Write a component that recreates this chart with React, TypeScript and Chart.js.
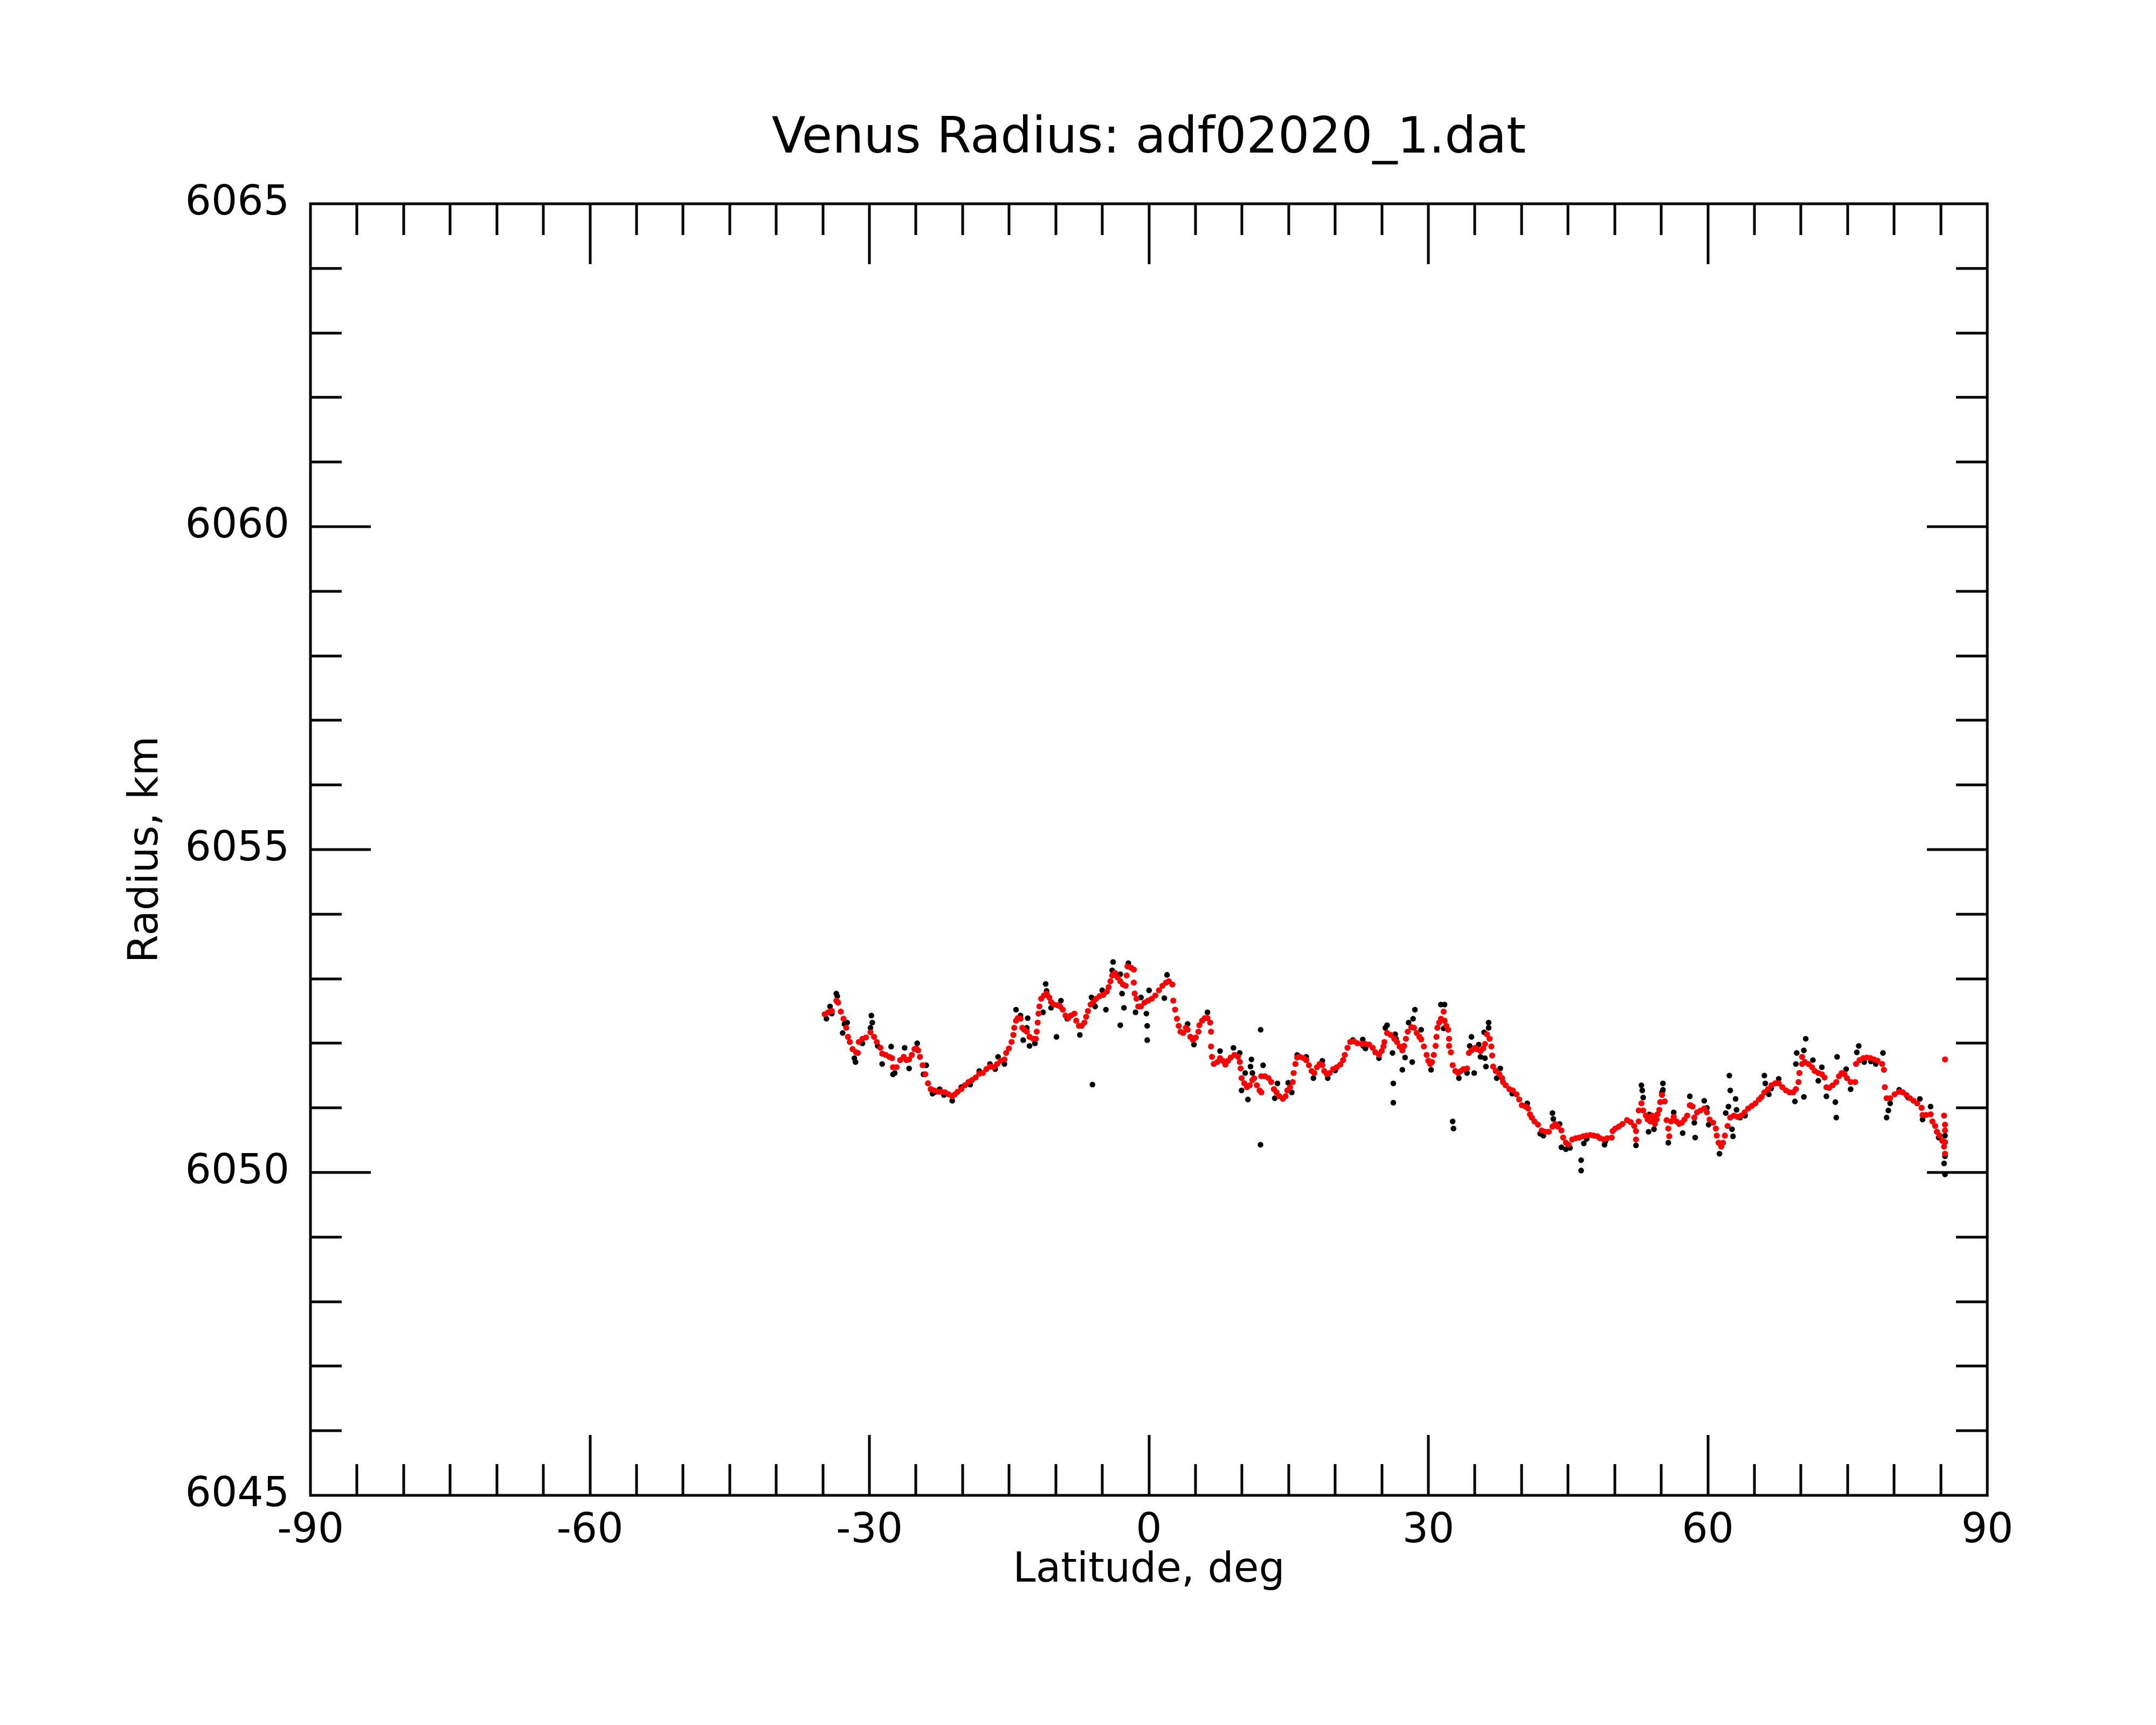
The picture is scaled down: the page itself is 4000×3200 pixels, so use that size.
import React, { useEffect, useRef } from 'react';
import { Chart, registerables } from 'chart.js';

Chart.register(...registerables);

const TITLE = 'Venus Radius: adf02020_1.dat';
const X_TITLE = 'Latitude, deg';
const Y_TITLE = 'Radius, km';

const X_MIN = -90;
const X_MAX = 90;
const Y_MIN = 6045;
const Y_MAX = 6065;
const xLabelStep = 30;
const yLabelStep = 5;
const xMajorTicks = [-60, -30, 0, 30, 60];
const xMinorTicks = [-85, -80, -75, -70, -65, -55, -50, -45, -40, -35, -25, -20, -15, -10, -5, 5, 10, 15, 20, 25, 35, 40, 45, 50, 55, 65, 70, 75, 80, 85];
const yMajorTicks = [6050, 6055, 6060];
const yMinorTicks = [6046, 6047, 6048, 6049, 6051, 6052, 6053, 6054, 6056, 6057, 6058, 6059, 6061, 6062, 6063, 6064];

// Smoothed (red) series
const redLat = [
  -34.80, -34.42, -34.03, -33.55, -33.36, -33.07, -32.78, -32.49, -32.30, -32.10, -31.81, -31.43, -31.24, -31.14,
  -30.75, -30.37, -29.89, -29.50, -29.21, -28.82, -28.63, -28.25, -27.86, -27.57, -27.47, -27.09, -26.70, -26.32,
  -26.03, -25.74, -25.45, -25.16, -24.97, -24.77, -24.58, -24.29, -24.00, -23.71, -23.42, -23.04, -22.65, -22.27,
  -21.88, -21.49, -21.11, -20.82, -20.53, -20.14, -19.76, -19.37, -18.99, -18.60, -18.21, -17.83, -17.44, -17.06,
  -16.67, -16.29, -15.90, -15.51, -15.32, -15.03, -14.74, -14.55, -14.45, -14.26, -14.07, -13.78, -13.59, -13.39,
  -13.10, -12.81, -12.43, -12.14,
  -12.04, -11.94, -11.85, -11.75, -11.56, -11.27, -10.98, -10.69, -10.50, -10.21, -9.82, -9.53, -9.24, -8.95,
  -8.66, -8.37, -7.99, -7.80, -7.51, -7.22, -6.93, -6.73, -6.54, -6.25, -5.96, -5.67, -5.29, -4.90, -4.52, -4.32,
  -4.13, -3.94, -3.65, -3.36, -3.07, -2.78, -2.49, -2.39, -2.30, -1.91, -1.62, -1.62, -1.53, -1.33, -1.14, -0.85,
  -0.47, -0.08, 0.31, 0.69, 1.08, 1.46, 1.85, 2.14, 2.52, 2.62, 2.81, 3.01, 3.20, 3.39, 3.68, 3.97, 4.16, 4.45,
  4.74, 5.03, 5.32, 5.42, 5.71, 6.00, 6.29, 6.58, 6.67, 6.67, 6.77, 6.96, 7.35, 7.64, 7.93, 8.21, 8.50, 8.79,
  9.18, 9.57, 9.76, 9.85, 9.95, 10.24, 10.53, 10.82, 11.11, 11.30, 11.59, 11.88, 12.07,
  12.06, 12.45, 12.84, 13.13, 13.42, 13.70, 13.99, 14.38, 14.67, 14.86, 15.15, 15.44, 15.54, 15.73, 15.92, 16.21,
  16.60, 16.89, 17.18, 17.47, 17.76, 18.04, 18.33, 18.62, 18.82, 19.11, 19.40, 19.78, 20.17, 20.55, 20.84, 21.03,
  21.32, 21.61, 22.00, 22.38, 22.87, 23.25, 23.64, 24.02, 24.31, 24.70, 24.99, 25.18, 25.28, 25.57, 25.95, 26.34,
  26.63, 26.92, 27.21, 27.40, 27.59, 27.79, 28.17, 28.46, 28.75, 29.04, 29.23, 29.52, 29.81, 30.00, 30.20, 30.39,
  30.58, 30.78, 30.87, 30.97, 31.16, 31.35, 31.64, 31.74, 31.93, 32.13, 32.22, 32.22, 32.42, 32.61, 32.90, 33.19,
  33.48, 33.77, 34.15, 34.35, 34.63, 35.02,
  35.21, 35.60, 35.89, 36.08, 36.28, 36.57, 36.76, 36.85, 36.95, 37.24, 37.63, 37.92, 38.01, 38.30, 38.69, 39.07,
  39.46, 39.75, 40.04, 40.42, 40.71, 40.91, 41.10, 41.39, 41.77, 42.16, 42.55, 42.93, 43.32, 43.61, 43.90, 44.28,
  44.47, 44.76, 45.05, 45.44, 45.82, 46.21, 46.60, 46.98, 47.37, 47.75, 48.14, 48.43, 48.81, 49.20, 49.68, 49.78,
  50.07, 50.45, 50.84, 51.32, 51.71, 52.09, 52.29, 52.29, 52.58, 52.58, 52.87, 53.06, 53.35, 53.54, 53.83, 54.02,
  54.22, 54.31, 54.50, 54.60, 54.79, 54.89, 55.08, 55.37, 55.57, 55.76, 55.86, 56.05, 56.34, 56.63, 56.92, 57.21,
  57.49, 57.78, 58.07, 58.36,
  58.55, 58.84, 59.22, 59.61, 59.90, 60.19, 60.57, 60.86, 60.96, 61.15, 61.44, 61.63, 61.83, 62.12, 62.40, 62.79,
  63.18, 63.56, 63.95, 64.33, 64.72, 65.11, 65.49, 65.78, 66.07, 66.46, 66.84, 67.23, 67.61, 68.00, 68.39, 68.77,
  69.16, 69.45, 69.74, 69.83, 70.12, 70.12, 70.41, 70.80, 71.18, 71.47, 71.86, 72.24, 72.53, 72.73, 73.02, 73.40,
  73.79, 74.08, 74.37, 74.66, 74.94, 75.33, 75.81, 75.91, 76.29, 76.68, 77.07, 77.45, 77.84, 78.22, 78.71, 78.90,
  79.00, 79.19, 79.57, 80.06, 80.54, 80.92, 81.31, 81.69, 82.08, 82.47, 82.95, 83.05, 83.43, 83.91, 84.11, 84.40,
  84.59, 84.88, 85.17, 85.36, 85.46, 85.46, 85.36, 85.46, 85.46, 85.46,
];
const redRad = [
  6052.45, 6052.48, 6052.50, 6052.66, 6052.63, 6052.49, 6052.38, 6052.24, 6052.10, 6052.02, 6051.91, 6051.86, 6051.85, 6052.02,
  6052.07, 6052.09, 6052.17, 6052.10, 6052.02, 6051.93, 6051.84, 6051.82, 6051.79, 6051.77, 6051.63, 6051.63, 6051.74, 6051.79,
  6051.74, 6051.75, 6051.82, 6051.91, 6051.92, 6051.89, 6051.79, 6051.66, 6051.52, 6051.38, 6051.29, 6051.27, 6051.25, 6051.25,
  6051.24, 6051.21, 6051.18, 6051.21, 6051.25, 6051.29, 6051.35, 6051.40, 6051.43, 6051.47, 6051.53, 6051.54, 6051.60, 6051.64,
  6051.63, 6051.68, 6051.73, 6051.75, 6051.85, 6051.92, 6052.02, 6052.13, 6052.24, 6052.35, 6052.39, 6052.38, 6052.24, 6052.21,
  6052.18, 6052.10, 6052.07, 6052.07,
  6052.18, 6052.32, 6052.46, 6052.57, 6052.69, 6052.74, 6052.77, 6052.71, 6052.64, 6052.60, 6052.59, 6052.57, 6052.52, 6052.43,
  6052.39, 6052.43, 6052.46, 6052.35, 6052.27, 6052.27, 6052.32, 6052.41, 6052.50, 6052.60, 6052.64, 6052.69, 6052.73, 6052.75, 6052.80, 6052.87,
  6052.96, 6053.05, 6053.09, 6053.02, 6052.96, 6052.91, 6052.89, 6053.05, 6053.19, 6053.17, 6053.14, 6052.94, 6052.77, 6052.69, 6052.57, 6052.57,
  6052.63, 6052.66, 6052.69, 6052.74, 6052.82, 6052.89, 6052.94, 6052.96, 6052.91, 6052.66, 6052.52, 6052.38, 6052.27, 6052.18, 6052.16, 6052.24, 6052.21, 6052.10,
  6052.05, 6052.09, 6052.18, 6052.28, 6052.35, 6052.39, 6052.39, 6052.32, 6052.18, 6051.95, 6051.79, 6051.68, 6051.71, 6051.77, 6051.73, 6051.67, 6051.73, 6051.78,
  6051.82, 6051.79, 6051.71, 6051.61, 6051.46, 6051.38, 6051.32, 6051.35, 6051.43, 6051.46, 6051.35, 6051.27, 6051.24,
  6051.49, 6051.49, 6051.46, 6051.40, 6051.29, 6051.24, 6051.18, 6051.14, 6051.18, 6051.27, 6051.32, 6051.40, 6051.54, 6051.68, 6051.78, 6051.79,
  6051.77, 6051.74, 6051.66, 6051.57, 6051.54, 6051.63, 6051.68, 6051.66, 6051.57, 6051.52, 6051.54, 6051.60, 6051.63, 6051.67, 6051.74, 6051.82,
  6051.93, 6052.02, 6052.03, 6052.00, 6051.99, 6051.99, 6051.98, 6051.93, 6051.86, 6051.82, 6051.88, 6051.95, 6052.02, 6052.16, 6052.13, 6052.07,
  6052.02, 6051.95, 6051.89, 6051.96, 6052.07, 6052.18, 6052.25, 6052.24, 6052.16, 6052.10, 6052.06, 6051.95, 6051.82, 6051.73, 6051.68, 6051.71,
  6051.82, 6051.96, 6052.10, 6052.24, 6052.32, 6052.38, 6052.49, 6052.35, 6052.27, 6052.21, 6052.07, 6051.96, 6051.86, 6051.66, 6051.57, 6051.54,
  6051.57, 6051.60, 6051.61, 6051.85, 6051.89, 6051.93,
  6051.91, 6051.88, 6051.92, 6051.99, 6052.14, 6052.07, 6051.95, 6051.81, 6051.64, 6051.57, 6051.52, 6051.46, 6051.40, 6051.35, 6051.29, 6051.27,
  6051.21, 6051.13, 6051.04, 6051.02, 6050.99, 6050.90, 6050.85, 6050.79, 6050.74, 6050.65, 6050.63, 6050.63, 6050.71, 6050.75, 6050.71, 6050.65,
  6050.54, 6050.46, 6050.43, 6050.51, 6050.53, 6050.54, 6050.56, 6050.57, 6050.58, 6050.57, 6050.56, 6050.53, 6050.51, 6050.53, 6050.54, 6050.64,
  6050.68, 6050.71, 6050.75, 6050.81, 6050.78, 6050.72, 6050.64, 6050.51, 6050.79, 6050.96, 6051.07, 6050.96, 6050.88, 6050.82, 6050.79, 6050.88,
  6050.83, 6050.75, 6050.82, 6050.90, 6050.97, 6051.09, 6051.20, 6051.10, 6050.81, 6050.68, 6050.56, 6050.79, 6050.86, 6050.79, 6050.75, 6050.77,
  6050.82, 6050.88, 6051.04, 6051.02,
  6050.85, 6050.93, 6050.96, 6050.99, 6050.93, 6050.82, 6050.77, 6050.68, 6050.57, 6050.46, 6050.40, 6050.46, 6050.57, 6050.72, 6050.85, 6050.88,
  6050.86, 6050.88, 6050.93, 6050.99, 6051.03, 6051.07, 6051.13, 6051.17, 6051.24, 6051.29, 6051.35, 6051.38, 6051.38, 6051.32, 6051.27, 6051.24,
  6051.24, 6051.29, 6051.40, 6051.54, 6051.68, 6051.79, 6051.71, 6051.68, 6051.63, 6051.57, 6051.54, 6051.52, 6051.47, 6051.32, 6051.31, 6051.35,
  6051.40, 6051.49, 6051.54, 6051.52, 6051.46, 6051.40, 6051.40, 6051.68, 6051.74, 6051.77, 6051.78, 6051.77, 6051.75, 6051.73, 6051.68, 6051.59,
  6051.32, 6051.15, 6051.15, 6051.21, 6051.25, 6051.24, 6051.20, 6051.15, 6051.11, 6051.07, 6051.00, 6050.89, 6050.89, 6050.90, 6050.79, 6050.72,
  6050.63, 6050.57, 6050.49, 6050.40, 6050.29, 6050.47, 6050.88, 6050.74, 6050.65, 6051.75,
];

// Raw (black) series
const blackLat = [
  -34.61, -34.23, -34.03, -33.55, -33.45, -32.87, -32.68, -32.39, -31.62, -31.49, -30.75, -29.89, -29.79, -29.69,
  -29.11, -28.63, -27.67, -27.47, -27.28, -26.22, -25.74, -24.87, -24.19, -23.90, -23.23, -23.04, -22.46, -22.00,
  -21.11, -20.14, -19.18, -18.21, -17.06, -16.50, -16.19, -15.51, -14.26, -13.78, -13.01, -13.10, -13.49, -12.81,
  -12.23, -11.36,
  -11.08, -10.98, -10.50, -9.92, -9.44, -8.76, -7.41, -6.16, -5.77, -5.00, -4.61, -6.06, -3.84, -3.94, -3.07, -2.88,
  -2.68, -3.07, -2.20, -1.43, -0.85, -0.27, -0.18, -0.18, 0.02, 1.66, 1.95, 4.16, 4.84, 6.29, 7.64, 9.08, 11.01,
  12.00, 10.34, 11.11, 9.95, 10.63, 11.98, 9.75, 10.91,
  12.26, 13.80, 13.51, 14.96, 15.34, 15.92, 16.89, 17.66, 18.62, 19.20, 20.00, 21.90, 22.96, 23.00, 23.25, 24.70,
  25.57, 25.38, 26.44, 26.15, 26.53, 26.24, 26.24, 27.21, 27.50, 28.27, 28.56, 28.36, 27.88, 29.23, 30.29, 31.35,
  31.74, 31.64, 32.61, 32.70, 33.28, 34.63, 34.44, 34.92,
  34.15, 35.41, 35.60, 36.08, 36.18, 36.47, 36.47, 35.99, 37.34, 37.72, 39.00, 40.62, 42.00, 42.35, 43.32, 43.41,
  44.09, 44.28, 44.76, 45.20, 46.40, 46.40, 46.69, 47.00, 48.91, 49.00, 52.29, 52.87, 52.96, 53.06, 53.73, 53.64,
  54.22, 55.18, 55.18, 55.08, 55.76, 56.34, 57.30, 58.07, 58.17,
  58.55, 58.64, 59.61, 59.90, 60.09, 61.25, 61.92, 62.21, 62.31, 62.41, 62.98, 62.70, 62.60, 63.08, 63.47, 64.00,
  66.07, 66.17, 66.55, 66.80, 67.61, 69.35, 69.54, 69.45, 70.31, 70.51, 70.31, 71.28, 71.86, 72.24, 72.73, 73.69,
  73.79, 73.88,
  74.85, 75.33, 76.20, 76.00, 76.78, 77.50, 78.03, 78.80, 79.19, 79.38, 79.57, 80.54, 81.50, 82.76, 83.91, 83.05,
  84.78, 85.46, 85.46, 85.36, 85.46,
];
const blackRad = [
  6052.38, 6052.57, 6052.46, 6052.77, 6052.73, 6052.16, 6052.30, 6052.32, 6051.77, 6051.71, 6052.00, 6052.24, 6052.43, 6052.32,
  6051.96, 6051.68, 6051.95, 6051.52, 6051.54, 6051.93, 6051.61, 6052.00, 6051.52, 6051.66, 6051.22, 6051.24, 6051.29, 6051.20,
  6051.11, 6051.32, 6051.36, 6051.57, 6051.68, 6051.60, 6051.79, 6051.68, 6052.52, 6052.43, 6052.39, 6052.24, 6052.05, 6051.96,
  6052.00, 6052.48,
  6052.92, 6052.81, 6052.55, 6052.10, 6052.66, 6052.38, 6052.13, 6052.71, 6052.57, 6052.82, 6052.52, 6051.36, 6053.26, 6053.13, 6053.07, 6052.77,
  6052.55, 6052.28, 6053.24, 6052.48, 6052.71, 6052.46, 6052.27, 6052.05, 6052.82, 6052.70, 6053.06, 6052.30, 6051.98, 6052.48, 6051.88, 6051.93, 6051.75,
  6052.21, 6051.54, 6051.54, 6051.27, 6051.13, 6050.43, 6051.85, 6051.64,
  6051.66, 6051.38, 6051.15, 6051.39, 6051.24, 6051.82, 6051.79, 6051.46, 6051.73, 6051.46, 6051.58, 6052.05, 6052.06, 6051.96, 6051.92, 6051.77,
  6052.28, 6052.24, 6052.14, 6051.85, 6052.07, 6051.38, 6051.08, 6051.59, 6051.78, 6051.71, 6052.52, 6052.38, 6052.32, 6052.21, 6051.59, 6052.60,
  6052.60, 6052.23, 6050.79, 6050.68, 6051.46, 6052.10, 6051.96, 6051.54,
  6051.54, 6051.98, 6051.79, 6051.77, 6051.64, 6052.32, 6052.24, 6052.17, 6051.46, 6051.61, 6051.22, 6051.07, 6050.60, 6050.57, 6050.92, 6050.83,
  6050.75, 6050.39, 6050.36, 6050.38, 6050.19, 6050.03, 6050.45, 6050.52, 6050.43, 6050.48, 6050.42, 6051.35, 6051.27, 6051.16, 6050.90, 6050.63,
  6050.67, 6051.38, 6051.28, 6051.24, 6050.46, 6050.93, 6050.61, 6051.18, 6051.04,
  6050.77, 6050.54, 6051.11, 6051.00, 6050.74, 6050.29, 6050.92, 6051.02, 6051.50, 6051.27, 6051.14, 6050.56, 6050.67, 6050.97, 6050.85, 6050.88,
  6051.50, 6051.38, 6051.21, 6051.30, 6051.45, 6051.10, 6051.85, 6051.68, 6051.89, 6052.07, 6051.17, 6051.74, 6051.42, 6051.63, 6051.18, 6051.09,
  6050.85, 6051.79,
  6051.60, 6051.29, 6051.96, 6051.86, 6051.71, 6051.72, 6051.68, 6051.85, 6050.85, 6050.96, 6051.07, 6051.28, 6051.16, 6051.14, 6051.02, 6050.82,
  6050.54, 6050.57, 6050.25, 6050.14, 6049.97,
];

const FONT = '"DejaVu Sans", "Liberation Sans", sans-serif';

const framePlugin = {
  id: 'idlFrame',
  afterDatasetsDraw(chart: any) {
    const { ctx, chartArea: a, scales } = chart;
    const xs = scales.x;
    const ys = scales.y;
    const minorLen = 58;
    const majorLen = 112;
    ctx.save();
    ctx.strokeStyle = '#000';
    ctx.lineWidth = 5;
    ctx.lineCap = 'butt';
    ctx.beginPath();
    const xTick = (v: number, len: number) => {
      const p = Math.round(xs.getPixelForValue(v));
      ctx.moveTo(p, a.bottom);
      ctx.lineTo(p, a.bottom - len);
      ctx.moveTo(p, a.top);
      ctx.lineTo(p, a.top + len);
    };
    const yTick = (v: number, len: number) => {
      const p = Math.round(ys.getPixelForValue(v));
      ctx.moveTo(a.left, p);
      ctx.lineTo(a.left + len, p);
      ctx.moveTo(a.right, p);
      ctx.lineTo(a.right - len, p);
    };
    xMinorTicks.forEach((v) => xTick(v, minorLen));
    xMajorTicks.forEach((v) => xTick(v, majorLen));
    yMinorTicks.forEach((v) => yTick(v, minorLen));
    yMajorTicks.forEach((v) => yTick(v, majorLen));
    ctx.stroke();
    ctx.strokeRect(a.left, a.top, a.right - a.left, a.bottom - a.top);

    ctx.fillStyle = '#000';
    ctx.textAlign = 'center';
    ctx.textBaseline = 'alphabetic';
    const cx = (a.left + a.right) / 2;
    const cy = (a.top + a.bottom) / 2;
    ctx.font = `92px ${FONT}`;
    ctx.fillText(TITLE, cx, 283);
    ctx.font = `76px ${FONT}`;
    ctx.fillText(X_TITLE, cx, 2934);
    ctx.translate(292, cy);
    ctx.rotate(-Math.PI / 2);
    ctx.fillText(Y_TITLE, 0, 0);
    ctx.restore();
  },
};

export default function App() {
  const canvasRef = useRef<HTMLCanvasElement | null>(null);

  useEffect(() => {
    const canvas = canvasRef.current;
    if (!canvas) return;
    const redPts = redLat.map((x, i) => ({ x, y: redRad[i] }));
    const blackPts = blackLat.map((x, i) => ({ x, y: blackRad[i] }));
    const chart = new Chart(canvas, {
      type: 'scatter',
      data: {
        datasets: [
          {
            label: 'smoothed',
            data: redPts,
            backgroundColor: '#ff0000',
            borderColor: '#ff0000',
            pointRadius: 5.6,
            pointBorderWidth: 0,
            pointHoverRadius: 5.6,
            order: 0,
          },
          {
            label: 'raw',
            data: blackPts,
            backgroundColor: '#000000',
            borderColor: '#000000',
            pointRadius: 5.3,
            pointBorderWidth: 0,
            pointHoverRadius: 5.3,
            order: 1,
          },
        ],
      },
      options: {
        responsive: false,
        animation: false,
        devicePixelRatio: 1,
        events: [],
        layout: { padding: { left: 0, top: 378, right: 313, bottom: 0 } },
        plugins: {
          legend: { display: false },
          title: { display: false },
          tooltip: { enabled: false },
        },
        scales: {
          x: {
            type: 'linear',
            position: 'bottom',
            min: X_MIN,
            max: X_MAX,
            grid: { display: false },
            border: { display: false },
            ticks: {
              stepSize: xLabelStep,
              padding: 14,
              color: '#000',
              font: { family: FONT, size: 76 },
              maxRotation: 0,
              autoSkip: false,
              callback: (v: any) => String(v),
            },
            afterFit: (scale: any) => {
              scale.height = 426;
            },
          },
          y: {
            type: 'linear',
            position: 'left',
            min: Y_MIN,
            max: Y_MAX,
            grid: { display: false },
            border: { display: false },
            ticks: {
              stepSize: yLabelStep,
              padding: 31,
              color: '#000',
              font: { family: FONT, size: 76 },
              autoSkip: false,
              callback: (v: any) => String(v),
            },
            afterFit: (scale: any) => {
              scale.width = 576;
            },
          },
        },
      },
      plugins: [framePlugin],
    });
    return () => chart.destroy();
  }, []);

  return (
    <div style={{ position: 'absolute', left: 0, top: 0, width: 4000, height: 3200, background: '#fff' }}>
      <canvas ref={canvasRef} width={4000} height={3200} style={{ display: 'block', width: 4000, height: 3200 }} />
    </div>
  );
}
